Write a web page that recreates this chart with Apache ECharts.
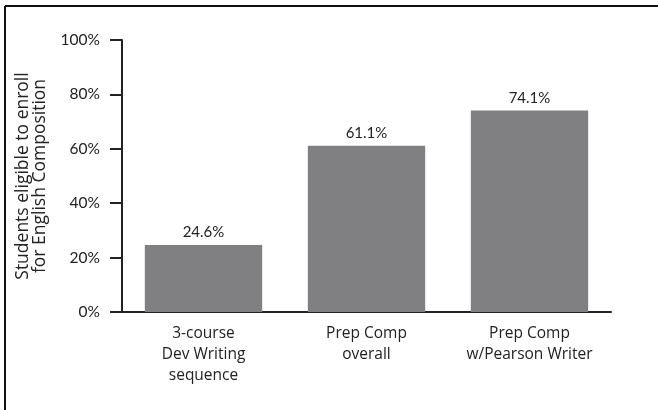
<!DOCTYPE html>
<html><head><meta charset="utf-8">
<script src="https://cdn.jsdelivr.net/npm/echarts@6/dist/echarts.min.js"></script>
<style>html,body{margin:0;padding:0;background:#fff}#c{width:658px;height:410px}</style>
</head><body><div id="c"></div>
<script>
const categories = ['3-course\nDev Writing\nsequence', 'Prep Comp\noverall', 'Prep Comp\nw/Pearson Writer'];
const values = [24.6, 61.1, 74.1];
const yTicks = [0, 20, 40, 60, 80, 100];
const yName = 'Students eligible to enroll\nfor English Composition';

const chart = echarts.init(document.getElementById('c'));
chart.setOption({
  animation: false,
  backgroundColor: '#fff',
  graphic: [
    {type: 'line', shape: {x1: 5, y1: 6, x2: 658, y2: 6}, style: {stroke: '#111', lineWidth: 2}},
    {type: 'line', shape: {x1: 5, y1: 6, x2: 5, y2: 410}, style: {stroke: '#111', lineWidth: 2}}
  ],
  grid: {left: 122, right: 47, top: 40, bottom: 98},
  xAxis: {
    type: 'category',
    data: categories,
    axisLine: {lineStyle: {color: '#222', width: 2}},
    axisTick: {inside: true, length: 6, lineStyle: {color: '#222', width: 2}},
    axisLabel: {interval: 0, color: '#222', fontFamily: 'Open Sans', fontSize: 15.5, lineHeight: 21, margin: 11}
  },
  yAxis: {
    type: 'value', min: 0, max: 100, interval: 20,
    name: yName, nameLocation: 'middle', nameGap: 73,
    nameTextStyle: {color: '#222', fontFamily: 'Open Sans', fontSize: 17.5, lineHeight: 17},
    axisLine: {show: true, lineStyle: {color: '#222', width: 2}},
    axisTick: {show: true, length: 12, lineStyle: {color: '#222', width: 2}},
    splitLine: {show: false},
    axisLabel: {color: '#222', fontFamily: 'Lato', fontSize: 15.5, margin: 22,
      formatter: v => yTicks.includes(v) ? v + '%' : ''}
  },
  series: [{
    type: 'bar', data: values, barCategoryGap: '28%',
    itemStyle: {color: '#808083'},
    label: {show: true, position: 'top', distance: 5, color: '#222', fontFamily: 'Lato', fontSize: 15,
      formatter: p => p.value.toFixed(1) + '%'}
  }]
});
</script></body></html>
